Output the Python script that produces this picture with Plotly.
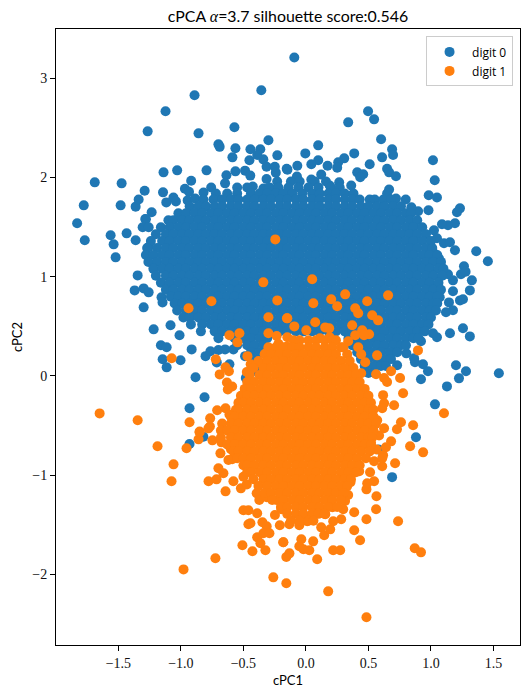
import plotly.graph_objects as go

# Scattered marks.
blue_x = [-0.891,-0.357,-1.123,-1.266,-0.859,-0.572,-0.30,-0.70,-0.69,-0.564,-0.444,-0.365,-0.588,-0.452,-0.229,-0.341,-0.39,-1.139,-1.03,-0.795,-0.564,-1.689,-1.474,-0.918,-0.636,-0.647,-0.487,-0.445,-0.315,-0.249,-0.241,-0.154,-0.315,-1.29,-1.143,-1.777,-1.482,-1.362,-1.338,-0.968,-0.935,-1.06,-1.04,-1.117,-0.946,-0.886,-1.234,-1.285,-0.819,-0.758,-0.425,-0.34,
-0.093,0.497,0.545,0.338,0.601,0.098,0.689,0.697,0.386,-0.005,1.016,0.609,0.306,0.258,0.098,0.043,0.25,0.173,-0.069,-0.148,0.51,0.649,0.665,0.72,0.41,0.458,0.434,1.03,-0.072,0.122,0.043,0.266,0.362,0.19,0.982,1.048,0.665,0.649,0.51,0.798,0.897,0.98,1.232,1.208,0.72,0.843,
-1.83,-1.769,-1.562,-1.538,-1.522,-1.434,-1.362,-1.346,-1.37,-1.298,-1.258,-1.298,-1.155,-1.147,-1.218,-1.083,-1.011,-1.16,-1.114,-1.146,-1.003,-1.114,-0.914,-0.883,-0.811,-0.931,-0.803,-0.764,-0.7,-0.647,-0.58,-0.612,-0.487,-0.713,-0.481,-0.447,-1.28,-1.306,-1.258,-1.258,
1.362,1.455,1.264,1.24,1.277,1.327,1.311,1.232,1.256,1.176,1.144,1.176,1.12,1.192,1.136,1.088,1.024,1.048,1.104,1.152,1.192,1.024,1.064,1.136,1.176,1.07,1.256,1.152,1.311,1.048,1.016,0.92,0.803,0.865,0.872,0.936,0.729,0.976,0.92,1.2,1.28,1.224,1.128,1.543,1.032,
-0.931,-0.82,0.88,0.689,0.53,0.457,0.58]
blue_y = [2.83,2.88,2.668,2.466,2.446,2.507,2.376,2.335,2.31,2.295,2.285,2.285,2.204,2.174,2.224,2.184,2.228,2.053,2.073,2.073,2.063,1.952,1.942,1.969,2.023,1.942,2.07,2.02,2.11,2.11,2.05,2.09,1.986,1.868,1.851,1.72,1.72,1.707,1.78,1.888,1.858,1.80,1.76,1.75,1.77,1.79,1.65,1.583,1.85,1.90,1.91,1.89,
3.21,2.668,2.587,2.557,2.386,2.325,2.285,2.228,2.244,2.244,2.174,2.204,2.194,2.154,2.174,2.134,2.10,2.12,2.12,2.08,2.134,2.09,2.053,2.013,2.053,2.033,2.003,1.973,2.01,2.03,1.98,1.953,1.92,1.92,1.822,1.80,1.88,1.84,1.78,1.78,1.66,1.67,1.69,1.65,1.79,1.70,
1.539,1.368,1.418,1.327,1.196,1.438,1.368,1.014,0.863,0.883,0.843,0.692,0.793,0.742,0.470,0.511,0.41,0.309,0.289,0.168,0.158,0.087,0.268,-0.013,-0.215,-0.326,0.2,0.249,0.262,0.268,0.268,0.118,0.2,0.137,-0.02,-0.1,1.58,1.50,1.50,1.30,
1.257,1.156,1.105,1.025,1.05,0.964,0.863,0.762,0.773,0.854,0.742,0.662,0.642,1.539,1.519,1.529,1.468,1.388,1.338,1.348,1.267,1.238,1.185,1.025,0.964,0.793,0.481,0.43,0.399,0.39,0.43,0.35,0.228,0.178,0.138,0.118,0.108,0.047,-0.033,0.108,0.047,-0.024,-0.105,0.027,-0.286,
-0.686,-0.612,-0.618,-1.02,-0.528,-0.588,-0.74]

orange_x = [-0.245,-0.341,-0.229,-0.756,-0.939,-0.3,-0.152,-0.612,-0.532,-0.548,-0.3,-0.234,-0.149,-0.22,-0.153,-1.074,-0.721,-0.468,-0.314,-0.209,-0.442,-0.372,-0.473,-0.69,-0.643,-0.616,-0.632,-0.59,-0.625,-0.473,-1.65,-1.346,-0.931,-0.71,-0.643,-0.612,-0.766,-0.768,-0.85,
0.05,0.314,0.657,0.202,0.49,0.059,0.25,0.394,0.418,0.53,0.577,-0.149,0.074,-0.093,0.37,0.154,0.186,0.45,0.505,0.394,0.465,0.003,0.338,0.112,0.19,0.418,0.896,0.569,0.442,0.474,0.354,0.442,0.561,0.681,0.625,0.649,0.753,0.777,0.617,0.705,0.625,0.61,1.104,0.76,0.857,0.57,0.625,0.728,
-1.187,-0.955,-1.059,-1.075,-0.779,-0.715,-0.643,-0.58,-0.66,-0.7,-0.684,-0.62,-0.59,-0.748,-0.676,-0.859,-0.851,-0.78,-0.6,-0.52,-0.473,-0.5,-0.394,-0.373,-0.314,-0.5,-0.46,-0.39,-0.46,-0.444,-0.348,-0.314,-0.34,-0.292,-0.39,-0.364,-0.508,-0.428,-0.324,-0.181,-0.724,-0.979,-0.261,-0.157,-0.157,-0.248,-0.209,-0.197,-0.236,
0.484,0.178,0.87,0.92,0.737,0.484,0.561,0.386,0.386,0.433,0.274,0.218,0.09,0.027,-0.02,-0.053,-0.037,0.058,-0.181,-0.132,0.122,0.146,0.194,-0.053,0.01,-0.133,0.282,0.218,0.155,0.564,0.484,0.545,0.49,0.713,0.61,0.513,0.426,0.545,0.617,0.61,0.937,0.833,0.681,0.64,0.585,0.564,0.52,0.357,0.338,0.313,0.298,0.212,0.274]
orange_y = [1.377,0.944,0.762,0.753,0.682,0.592,0.582,0.41,0.43,0.339,0.43,0.403,0.39,0.325,0.295,0.178,0.168,0.2,0.237,0.2,0.118,0.137,0.04,0.016,0.087,0.047,-0.066,-0.106,-0.136,-0.143,-0.377,-0.447,-0.467,-0.346,-0.326,-0.388,-0.427,-0.51,-0.56,
0.975,0.823,0.813,0.773,0.753,0.733,0.703,0.682,0.632,0.612,0.561,0.581,0.541,0.5,0.511,0.49,0.48,0.46,0.42,0.41,0.41,0.46,0.35,0.38,0.39,0.289,0.258,0.208,0.218,0.138,0.094,0.027,0.017,0.047,-0.02,-0.06,-0.02,-0.174,-0.193,-0.295,-0.275,-0.325,-0.375,-0.467,-0.497,-0.447,-0.527,-0.537,
-0.709,-0.729,-0.891,-1.062,-1.062,-1.042,-1.163,-1.062,-0.981,-0.931,-0.78,-0.847,-0.84,-0.649,-0.669,-0.639,-0.568,-0.528,-0.739,-1.133,-1.093,-1.015,-1.183,-1.25,-1.223,-1.354,-1.354,-1.384,-1.495,-1.485,-1.475,-1.515,-1.586,-1.586,-1.626,-1.687,-1.707,-1.767,-1.757,-1.677,-1.838,-1.95,-2.03,-2.09,-1.825,-1.401,-1.505,-1.344,-1.25,
-2.433,-2.171,-1.737,-1.778,-1.465,-1.445,-1.344,-1.374,-1.556,-1.656,-1.757,-1.757,-1.848,-1.757,-1.747,-1.717,-1.646,-1.667,-1.677,-1.788,-1.526,-1.606,-1.546,-1.505,-1.465,-1.495,-1.445,-1.465,-1.394,-1.213,-1.143,-1.062,-1.082,-0.88,-0.91,-0.971,-0.961,-0.86,-0.8,-0.83,-0.77,-0.709,-0.659,-0.719,-0.6,-0.74,-0.67,-1.07,-1.2,-1.26,-1.344,-1.324,-1.16]

# The solid interiors hide individual marks: these rows are estimates of what
# covers each band of the cloud, not marks that could be read one at a time.
blue_core = {
 1.96: [-0.23,-0.12,-0.05,0.07,0.16],
 1.90: [-0.55,-0.47,-0.29,-0.22,-0.14,-0.06,0.02,0.1,0.2,0.27],
 1.84: [-0.72,-0.63,-0.55,-0.44,-0.37,-0.31,-0.24,-0.18,-0.11,-0.03,0.05,0.11,0.18,0.24,0.31,0.38],
 1.78: [-0.82,-0.74,-0.67,-0.6,-0.54,-0.47,-0.41,-0.34,-0.28,-0.21,-0.15,-0.08,-0.02,0.05,0.11,0.18,0.24,0.31,0.37,0.43,0.55,0.62,0.68],
 1.71: [-0.93,-0.86,-0.8,-0.73,-0.67,-0.6,-0.54,-0.47,-0.41,-0.34,-0.28,-0.21,-0.15,-0.08,-0.02,0.05,0.11,0.18,0.24,0.31,0.37,0.44,0.5,0.57,0.63,0.7,0.76],
 1.64: [-1.02,-0.96,-0.89,-0.83,-0.76,-0.7,-0.63,-0.57,-0.5,-0.44,-0.37,-0.31,-0.24,-0.18,-0.11,-0.05,0.02,0.08,0.15,0.21,0.28,0.34,0.41,0.47,0.54,0.6,0.67,0.73,0.8,0.84],
 1.57: [-1.1,-1.06,-0.99,-0.93,-0.86,-0.8,-0.73,-0.67,-0.6,-0.54,-0.47,-0.41,-0.34,-0.28,-0.21,-0.15,-0.08,-0.02,0.05,0.11,0.18,0.24,0.31,0.37,0.44,0.5,0.57,0.63,0.7,0.76,0.83,0.89],
 1.50: [-1.16,-1.09,-1.02,-0.96,-0.89,-0.83,-0.76,-0.7,-0.63,-0.57,-0.5,-0.44,-0.37,-0.31,-0.24,-0.18,-0.11,-0.05,0.02,0.08,0.15,0.21,0.28,0.34,0.41,0.47,0.54,0.6,0.67,0.73,0.8,0.86,0.93],
 1.43: [-1.2,-1.12,-1.06,-0.99,-0.93,-0.86,-0.8,-0.73,-0.67,-0.6,-0.54,-0.47,-0.41,-0.34,-0.28,-0.21,-0.15,-0.08,-0.02,0.05,0.11,0.18,0.24,0.31,0.37,0.44,0.5,0.57,0.63,0.7,0.76,0.83,0.89,0.96],
 1.36: [-1.24,-1.15,-1.09,-1.02,-0.96,-0.89,-0.83,-0.76,-0.7,-0.63,-0.57,-0.5,-0.44,-0.37,-0.31,-0.24,-0.18,-0.11,-0.05,0.02,0.08,0.15,0.21,0.28,0.34,0.41,0.47,0.54,0.6,0.67,0.73,0.8,0.86,0.93,1.0],
 1.29: [-1.27,-1.19,-1.12,-1.06,-0.99,-0.93,-0.86,-0.8,-0.73,-0.67,-0.6,-0.54,-0.47,-0.41,-0.34,-0.28,-0.21,-0.15,-0.08,-0.02,0.05,0.11,0.18,0.24,0.31,0.37,0.44,0.5,0.57,0.63,0.7,0.76,0.83,0.89,0.96,1.01],
 1.22: [-1.28,-1.22,-1.15,-1.09,-1.02,-0.96,-0.89,-0.83,-0.76,-0.7,-0.63,-0.57,-0.5,-0.44,-0.37,-0.31,-0.24,-0.18,-0.11,-0.05,0.02,0.08,0.15,0.21,0.28,0.34,0.41,0.47,0.54,0.6,0.67,0.73,0.8,0.86,0.93,0.99,1.05],
 1.15: [-1.26,-1.19,-1.12,-1.06,-0.99,-0.93,-0.86,-0.8,-0.73,-0.67,-0.6,-0.54,-0.47,-0.41,-0.34,-0.28,-0.21,-0.15,-0.08,-0.02,0.05,0.11,0.18,0.24,0.31,0.37,0.44,0.5,0.57,0.63,0.7,0.76,0.83,0.89,0.96,1.02,1.08],
 1.08: [-1.22,-1.15,-1.09,-1.02,-0.96,-0.89,-0.83,-0.76,-0.7,-0.63,-0.57,-0.5,-0.44,-0.37,-0.31,-0.24,-0.18,-0.11,-0.05,0.02,0.08,0.15,0.21,0.28,0.34,0.41,0.47,0.54,0.6,0.67,0.73,0.8,0.86,0.93,0.99,1.06,1.1],
 1.01: [-1.2,-1.12,-1.06,-0.99,-0.93,-0.86,-0.8,-0.73,-0.67,-0.6,-0.54,-0.47,-0.41,-0.34,-0.28,-0.21,-0.15,-0.08,-0.02,0.05,0.11,0.18,0.24,0.31,0.37,0.44,0.5,0.57,0.63,0.7,0.76,0.83,0.89,0.96,1.02,1.09],
 0.94: [-1.16,-1.09,-1.02,-0.96,-0.89,-0.83,-0.76,-0.7,-0.63,-0.57,-0.5,-0.44,-0.37,-0.31,-0.24,-0.18,-0.11,-0.05,0.02,0.08,0.15,0.21,0.28,0.34,0.41,0.47,0.54,0.6,0.67,0.73,0.8,0.86,0.93,0.99,1.06],
 0.87: [-1.12,-1.06,-0.99,-0.93,-0.86,-0.8,-0.73,-0.67,-0.6,-0.54,-0.47,-0.41,-0.34,-0.28,-0.21,-0.15,-0.08,-0.02,0.05,0.11,0.18,0.24,0.31,0.37,0.44,0.5,0.57,0.63,0.7,0.76,0.83,0.89,0.96,1.02,1.08],
 0.80: [-1.08,-1.02,-0.96,-0.89,-0.83,-0.76,-0.7,-0.63,-0.57,-0.5,-0.44,-0.37,-0.31,-0.24,-0.18,-0.11,-0.05,0.02,0.08,0.15,0.21,0.28,0.34,0.41,0.47,0.54,0.6,0.67,0.73,0.8,0.86,0.93,0.99,1.05],
 0.73: [-1.05,-0.99,-0.93,-0.86,-0.8,-0.73,-0.67,-0.6,-0.54,-0.47,-0.41,-0.34,-0.28,-0.21,-0.15,-0.08,-0.02,0.05,0.11,0.18,0.24,0.31,0.37,0.44,0.5,0.57,0.63,0.7,0.76,0.83,0.89,0.96,1.02,1.05],
 0.66: [-1.03,-0.96,-0.89,-0.83,-0.76,-0.7,-0.63,-0.57,-0.5,-0.44,-0.37,-0.31,-0.24,-0.18,-0.11,-0.05,0.02,0.08,0.15,0.21,0.28,0.34,0.41,0.47,0.54,0.6,0.67,0.73,0.8,0.86,0.93,0.99,1.04],
 0.59: [-0.98,-0.93,-0.86,-0.8,-0.73,-0.67,-0.6,-0.54,-0.47,-0.41,-0.34,-0.28,-0.21,-0.15,-0.08,-0.02,0.05,0.11,0.18,0.24,0.31,0.37,0.44,0.5,0.57,0.63,0.7,0.76,0.83,0.89,0.96,1.0],
 0.52: [-0.92,-0.83,-0.76,-0.7,-0.63,-0.57,-0.5,-0.44,-0.37,-0.31,-0.24,-0.18,-0.11,-0.05,0.02,0.08,0.15,0.21,0.28,0.34,0.41,0.47,0.54,0.6,0.67,0.73,0.8,0.86,0.93,0.98],
 0.45: [-0.84,-0.73,-0.67,-0.6,-0.54,-0.47,-0.41,-0.34,-0.28,-0.21,-0.15,-0.08,-0.02,0.05,0.11,0.18,0.24,0.31,0.37,0.44,0.5,0.57,0.63,0.7,0.76,0.83,0.89,0.95],
 0.38: [-0.7,-0.57,-0.5,-0.44,-0.37,-0.31,0.34,0.41,0.47,0.54,0.6,0.67,0.73,0.8,0.86,0.9],
 0.31: [-0.55,-0.47,-0.41,-0.34,0.37,0.44,0.5,0.57,0.63,0.7,0.76,0.8],
 0.24: [-0.44,-0.37,0.41,0.47,0.54,0.6,0.67,0.73],
 0.17: [-0.41,0.44,0.5,0.57,0.63,0.68],
 0.10: [-0.4,0.47,0.54,0.6,0.64],
 0.03: [-0.38,0.5,0.55],
}
orange_core = {
 0.36: [-0.1,-0.05,0.02,0.08,0.15,0.21,0.24],
 0.29: [-0.3,-0.24,-0.18,-0.11,-0.05,0.02,0.08,0.15,0.21,0.28,0.3],
 0.22: [-0.33,-0.28,-0.21,-0.15,-0.08,-0.02,0.05,0.11,0.18,0.24,0.33],
 0.15: [-0.38,-0.31,-0.24,-0.18,-0.11,-0.05,0.02,0.08,0.15,0.21,0.28,0.35],
 0.08: [-0.42,-0.34,-0.28,-0.21,-0.15,-0.08,-0.02,0.05,0.11,0.18,0.24,0.31,0.38],
 0.01: [-0.45,-0.37,-0.31,-0.24,-0.18,-0.11,-0.05,0.02,0.08,0.15,0.21,0.28,0.34,0.4],
 -0.06: [-0.47,-0.41,-0.34,-0.28,-0.21,-0.15,-0.08,-0.02,0.05,0.11,0.18,0.24,0.31,0.37,0.43],
 -0.13: [-0.49,-0.44,-0.37,-0.31,-0.24,-0.18,-0.11,-0.05,0.02,0.08,0.15,0.21,0.28,0.34,0.41,0.47],
 -0.20: [-0.52,-0.47,-0.41,-0.34,-0.28,-0.21,-0.15,-0.08,-0.02,0.05,0.11,0.18,0.24,0.31,0.37,0.44,0.5],
 -0.27: [-0.54,-0.5,-0.44,-0.37,-0.31,-0.24,-0.18,-0.11,-0.05,0.02,0.08,0.15,0.21,0.28,0.34,0.41,0.47,0.52],
 -0.34: [-0.56,-0.54,-0.47,-0.41,-0.34,-0.28,-0.21,-0.15,-0.08,-0.02,0.05,0.11,0.18,0.24,0.31,0.37,0.44,0.5,0.54],
 -0.41: [-0.6,-0.57,-0.5,-0.44,-0.37,-0.31,-0.24,-0.18,-0.11,-0.05,0.02,0.08,0.15,0.21,0.28,0.34,0.41,0.47,0.54],
 -0.48: [-0.67,-0.6,-0.54,-0.47,-0.41,-0.34,-0.28,-0.21,-0.15,-0.08,-0.02,0.05,0.11,0.18,0.24,0.31,0.37,0.44,0.5,0.56],
 -0.55: [-0.68,-0.63,-0.57,-0.5,-0.44,-0.37,-0.31,-0.24,-0.18,-0.11,-0.05,0.02,0.08,0.15,0.21,0.28,0.34,0.41,0.47,0.54],
 -0.62: [-0.68,-0.6,-0.54,-0.47,-0.41,-0.34,-0.28,-0.21,-0.15,-0.08,-0.02,0.05,0.11,0.18,0.24,0.31,0.37,0.44,0.5,0.53],
 -0.69: [-0.63,-0.57,-0.5,-0.44,-0.37,-0.31,-0.24,-0.18,-0.11,-0.05,0.02,0.08,0.15,0.21,0.28,0.34,0.41,0.47,0.52],
 -0.76: [-0.58,-0.54,-0.47,-0.41,-0.34,-0.28,-0.21,-0.15,-0.08,-0.02,0.05,0.11,0.18,0.24,0.31,0.37,0.44,0.51],
 -0.83: [-0.55,-0.5,-0.44,-0.37,-0.31,-0.24,-0.18,-0.11,-0.05,0.02,0.08,0.15,0.21,0.28,0.34,0.41,0.48],
 -0.90: [-0.5,-0.47,-0.41,-0.34,-0.28,-0.21,-0.15,-0.08,-0.02,0.05,0.11,0.18,0.24,0.31,0.37,0.43],
 -0.97: [-0.47,-0.44,-0.37,-0.31,-0.24,-0.18,-0.11,-0.05,0.02,0.08,0.15,0.21,0.28,0.34,0.4],
 -1.04: [-0.42,-0.34,-0.28,-0.21,-0.15,-0.08,-0.02,0.05,0.11,0.18,0.24,0.31,0.36],
 -1.11: [-0.38,-0.31,-0.24,-0.18,-0.11,-0.05,0.02,0.08,0.15,0.21,0.28,0.33],
 -1.18: [-0.33,-0.28,-0.21,-0.15,-0.08,-0.02,0.05,0.11,0.18,0.24,0.3],
 -1.25: [-0.27,-0.18,-0.11,-0.05,0.02,0.08,0.15,0.21,0.28],
 -1.32: [-0.2,-0.15,-0.08,-0.02,0.05,0.11,0.18,0.25],
 -1.39: [-0.15,-0.08,-0.02,0.05,0.1,0.15],
 -1.46: [-0.12,-0.05,0.02,0.06],
}
x_ticks = [-1.5,-1.0,-0.5,0.0,0.5,1.0,1.5]
x_labels = ["−1.5","−1.0","−0.5","0.0","0.5","1.0","1.5"]
y_ticks = [-2,-1,0,1,2,3]
y_labels = ["−2","−1","0","1","2","3"]
series_names = ["digit 0","digit 1"]

def merge(xs, ys, core):
    ax, ay = list(xs), list(ys)
    for y, row in core.items():
        ax += row
        ay += [y]*len(row)
    return ax, ay

bx, by = merge(blue_x, blue_y, blue_core)
ox, oy = merge(orange_x, orange_y, orange_core)
MS = 10
fig = go.Figure()
fig.add_trace(go.Scatter(x=bx, y=by, mode="markers", name=series_names[0], marker=dict(color="#1f77b4", size=MS, line=dict(width=0))))
fig.add_trace(go.Scatter(x=ox, y=oy, mode="markers", name=series_names[1], marker=dict(color="#ff7f0e", size=MS, line=dict(width=0))))
ax = dict(showgrid=False, zeroline=False, showline=True, mirror=True, linecolor="black", linewidth=1.1,
          ticks="outside", ticklen=5, tickwidth=1.1, tickcolor="black",
          tickfont=dict(family="Liberation Serif", size=14, color="#111"))
fig.update_layout(
    width=530, height=695, autosize=False, template=None, showlegend=True, hovermode=False,
    paper_bgcolor="white", plot_bgcolor="white",
    margin=dict(l=55.5, r=9.5, t=29, b=50),
    title=dict(text="cPCA <i><span style=\"font-family:'Liberation Serif'\">α</span></i>=3.7 silhouette score:0.546", x=288/530, xanchor="center", y=1-16/695, yanchor="middle",
               font=dict(family="Lato", size=15.9, color="black")),
    xaxis=dict(ax, range=[-1.999,1.712], tickvals=x_ticks, ticktext=x_labels,
               title=dict(text="cPC1", standoff=6, font=dict(family="Lato", size=13, color="black"))),
    yaxis=dict(ax, range=[-2.712,3.498], tickvals=y_ticks, ticktext=y_labels,
               title=dict(text="cPC2", standoff=6, font=dict(family="Lato", size=13, color="black"))),
    legend=dict(x=0.985, xanchor="right", y=0.988, yanchor="top", bgcolor="rgba(255,255,255,0.8)", bordercolor="#ccc", borderwidth=1,
                font=dict(family="Open Sans", size=12, color="black"), itemwidth=35, tracegroupgap=0),
)
fig.write_html("out.html", config={"displayModeBar": False}, post_script="document.body.style.margin='0';")
